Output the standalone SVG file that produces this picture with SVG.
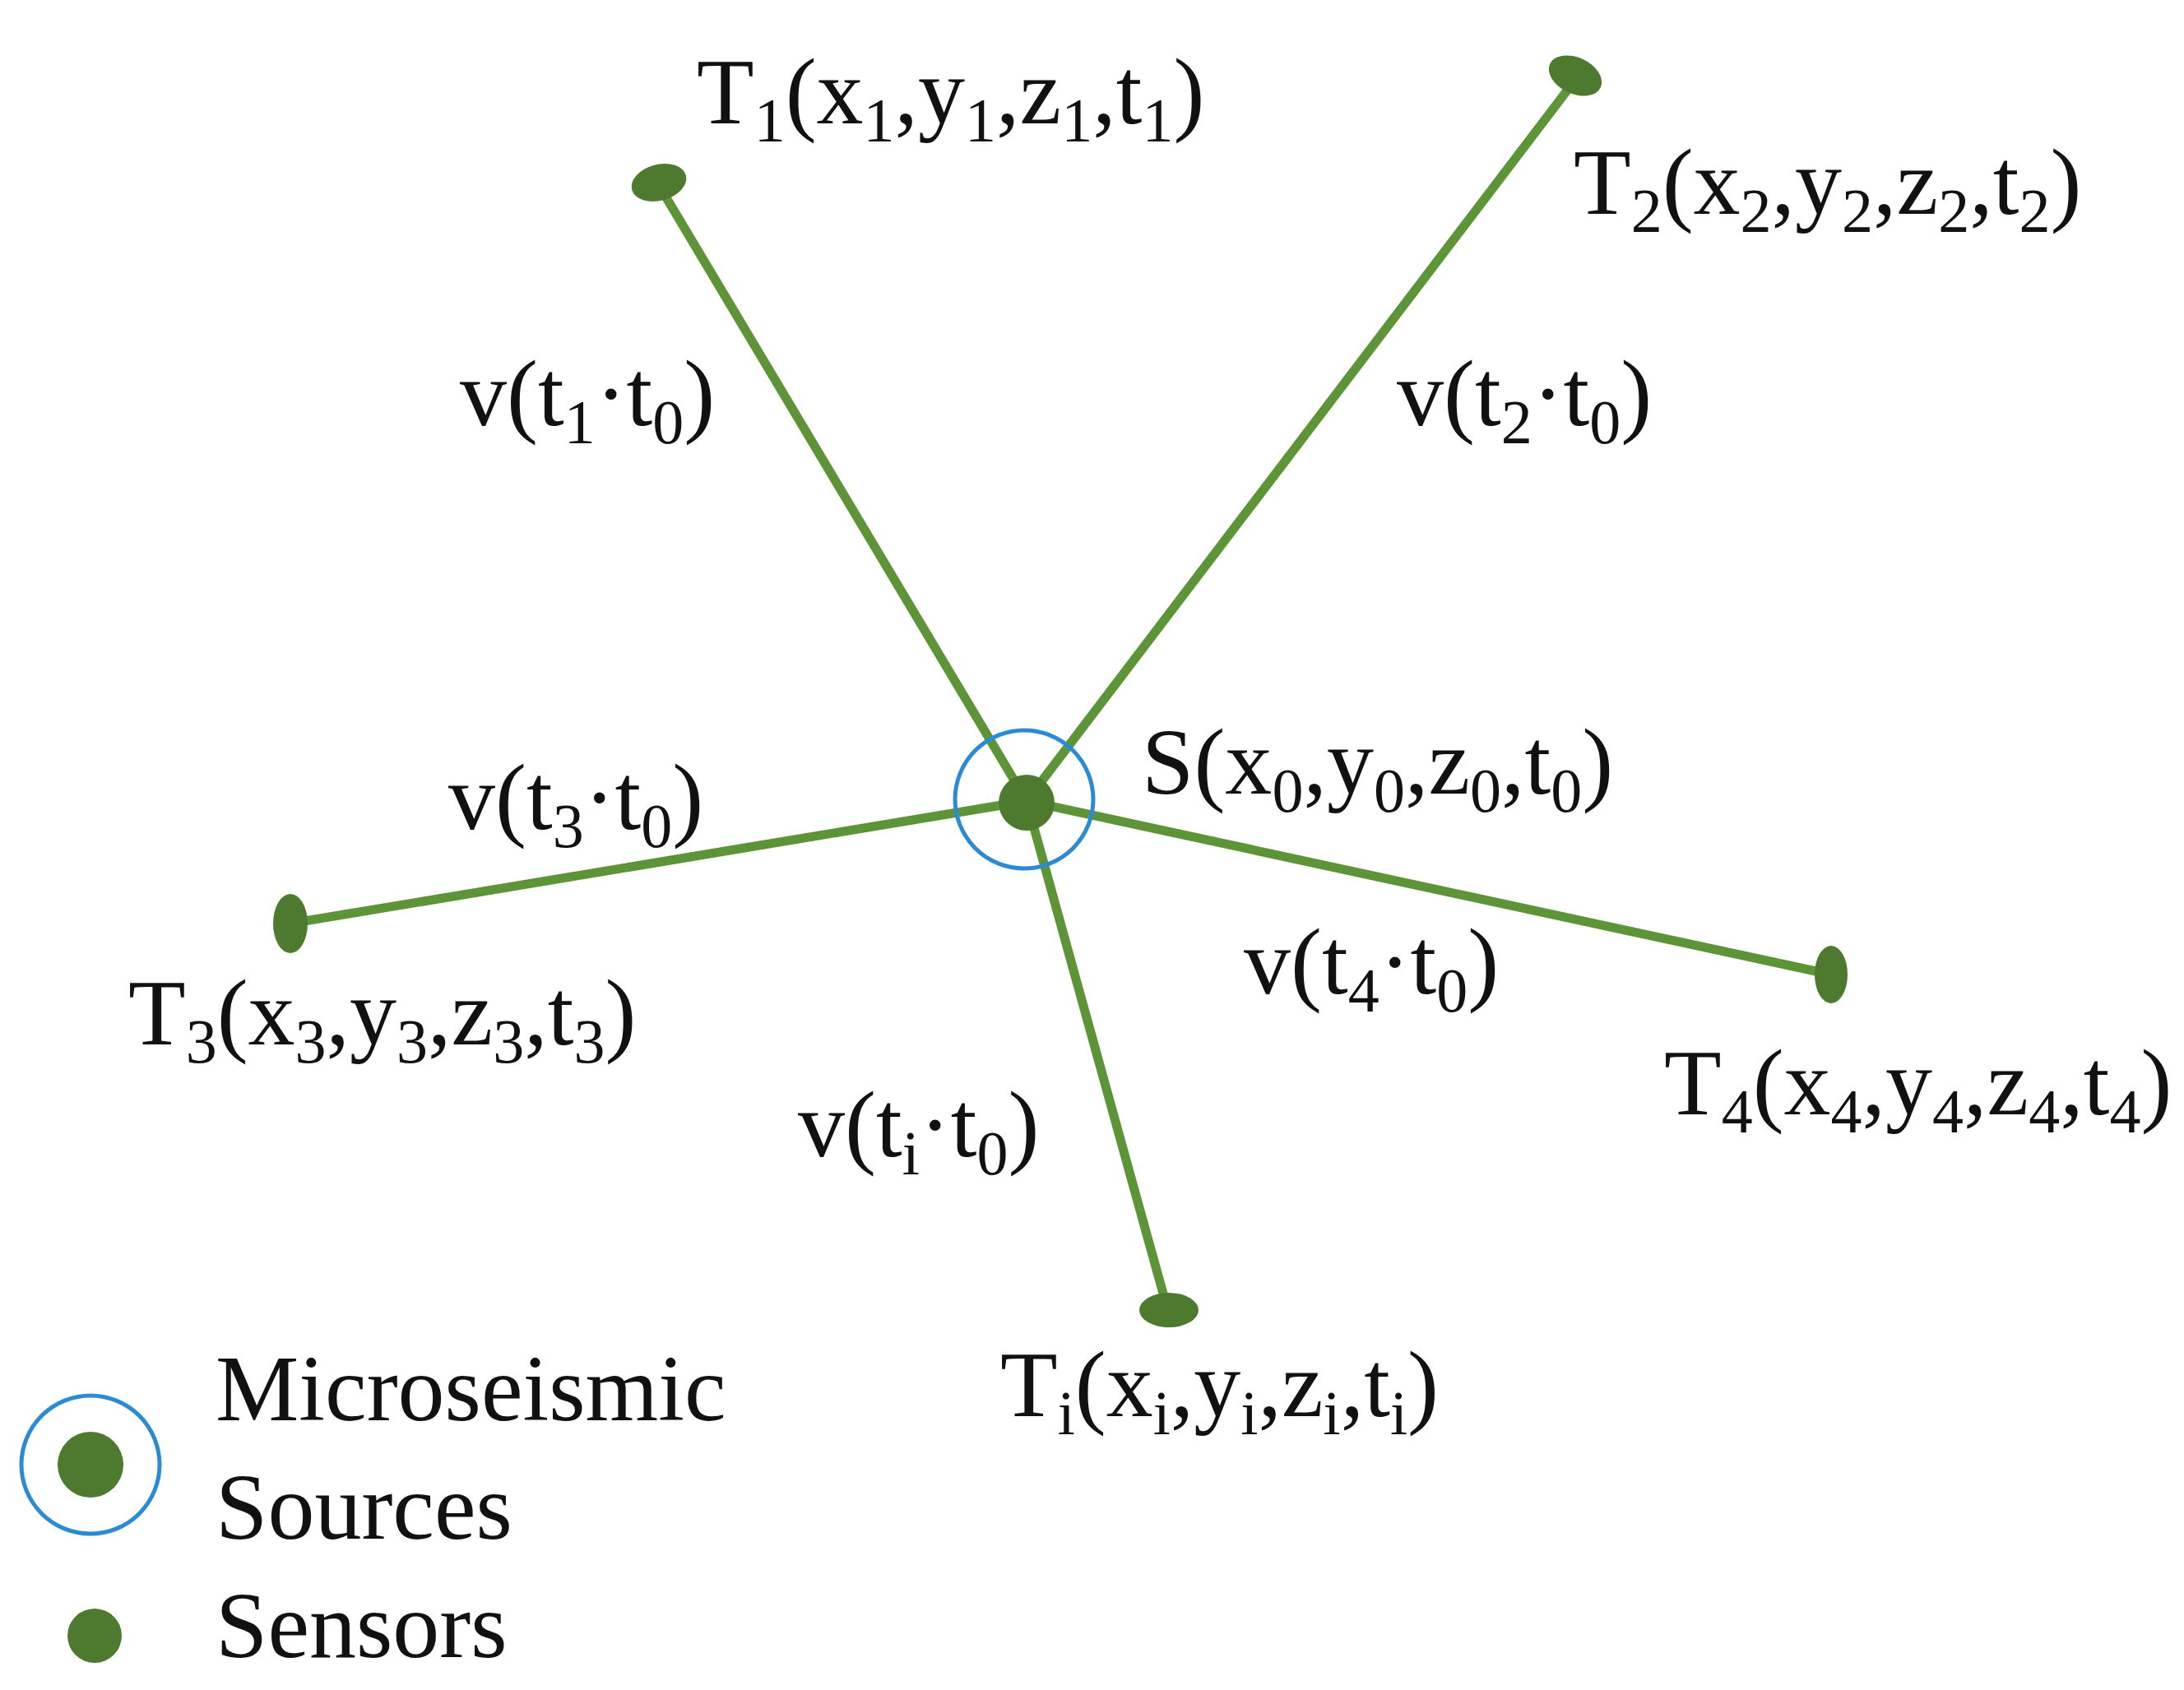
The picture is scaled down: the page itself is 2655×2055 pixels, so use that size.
<svg xmlns="http://www.w3.org/2000/svg" width="2655" height="2055" viewBox="0 0 2655 2055">
<style>
text{font-family:"Liberation Serif",serif;font-size:114px;fill:#111}
.s{font-size:76px}
.ln{stroke:#5e9438;stroke-width:11;fill:none}
.dot{fill:#4d7a2e}
.ring{fill:none;stroke:#2a8ad4;stroke-width:5}
</style>
<rect width="2655" height="2055" fill="#fff"/>
<g id="connectors">
<line class="ln" x1="1248" y1="974" x2="799" y2="222"/>
<line class="ln" x1="1248" y1="974" x2="1918" y2="93"/>
<line class="ln" x1="1248" y1="974" x2="352" y2="1123"/>
<line class="ln" x1="1248" y1="974" x2="2226" y2="1185"/>
<line class="ln" x1="1248" y1="974" x2="1419" y2="1591"/>
</g>
<g id="S"><circle class="ring" cx="1245" cy="972" r="84"/><circle class="dot" cx="1248" cy="976" r="34"/>
<text x="1388" y="965">S(x<tspan class="s" dy="22">0</tspan><tspan dy="-22">,y</tspan><tspan class="s" dy="22">0</tspan><tspan dy="-22">,z</tspan><tspan class="s" dy="22">0</tspan><tspan dy="-22">,t</tspan><tspan class="s" dy="22">0</tspan><tspan dy="-22">)</tspan></text></g>
<g id="T1"><ellipse class="dot" cx="801" cy="222" rx="34" ry="22" transform="rotate(-15 801 222)"/>
<text x="847" y="150">T<tspan class="s" dy="22">1</tspan><tspan dy="-22">(x</tspan><tspan class="s" dy="22">1</tspan><tspan dy="-22">,y</tspan><tspan class="s" dy="22">1</tspan><tspan dy="-22">,z</tspan><tspan class="s" dy="22">1</tspan><tspan dy="-22">,t</tspan><tspan class="s" dy="22">1</tspan><tspan dy="-22">)</tspan></text></g>
<g id="T2"><ellipse class="dot" cx="1915" cy="92" rx="34" ry="22" transform="rotate(25 1915 92)"/>
<text x="1913" y="260">T<tspan class="s" dy="22">2</tspan><tspan dy="-22">(x</tspan><tspan class="s" dy="22">2</tspan><tspan dy="-22">,y</tspan><tspan class="s" dy="22">2</tspan><tspan dy="-22">,z</tspan><tspan class="s" dy="22">2</tspan><tspan dy="-22">,t</tspan><tspan class="s" dy="22">2</tspan><tspan dy="-22">)</tspan></text></g>
<g id="T3"><ellipse class="dot" cx="353" cy="1123" rx="21" ry="36"/>
<text x="156" y="1270">T<tspan class="s" dy="22">3</tspan><tspan dy="-22">(x</tspan><tspan class="s" dy="22">3</tspan><tspan dy="-22">,y</tspan><tspan class="s" dy="22">3</tspan><tspan dy="-22">,z</tspan><tspan class="s" dy="22">3</tspan><tspan dy="-22">,t</tspan><tspan class="s" dy="22">3</tspan><tspan dy="-22">)</tspan></text></g>
<g id="T4"><ellipse class="dot" cx="2226" cy="1185" rx="20" ry="35"/>
<text x="2023" y="1355">T<tspan class="s" dy="22">4</tspan><tspan dy="-22">(x</tspan><tspan class="s" dy="22">4</tspan><tspan dy="-22">,y</tspan><tspan class="s" dy="22">4</tspan><tspan dy="-22">,z</tspan><tspan class="s" dy="22">4</tspan><tspan dy="-22">,t</tspan><tspan class="s" dy="22">4</tspan><tspan dy="-22">)</tspan></text></g>
<g id="Ti"><ellipse class="dot" cx="1421" cy="1593" rx="36" ry="21"/>
<text x="1216" y="1722">T<tspan class="s" dy="22">i</tspan><tspan dy="-22">(x</tspan><tspan class="s" dy="22">i</tspan><tspan dy="-22">,y</tspan><tspan class="s" dy="22">i</tspan><tspan dy="-22">,z</tspan><tspan class="s" dy="22">i</tspan><tspan dy="-22">,t</tspan><tspan class="s" dy="22">i</tspan><tspan dy="-22">)</tspan></text></g>
<g id="labels">
<text x="559" y="517">v(t<tspan class="s" dy="22">1</tspan><tspan dy="-22">·t</tspan><tspan class="s" dy="22">0</tspan><tspan dy="-22">)</tspan></text>
<text x="1698" y="517">v(t<tspan class="s" dy="22">2</tspan><tspan dy="-22">·t</tspan><tspan class="s" dy="22">0</tspan><tspan dy="-22">)</tspan></text>
<text x="545" y="1008">v(t<tspan class="s" dy="22">3</tspan><tspan dy="-22">·t</tspan><tspan class="s" dy="22">0</tspan><tspan dy="-22">)</tspan></text>
<text x="1512" y="1208">v(t<tspan class="s" dy="22">4</tspan><tspan dy="-22">·t</tspan><tspan class="s" dy="22">0</tspan><tspan dy="-22">)</tspan></text>
<text x="970" y="1406">v(t<tspan class="s" dy="22">i</tspan><tspan dy="-22">·t</tspan><tspan class="s" dy="22">0</tspan><tspan dy="-22">)</tspan></text>
</g>
<g id="legend">
<circle class="ring" cx="110" cy="1781" r="84"/><circle class="dot" cx="110" cy="1781" r="40"/>
<text x="262" y="1727">Microseismic</text>
<text x="262" y="1871">Sources</text>
<circle class="dot" cx="115" cy="1989" r="33"/>
<text x="262" y="2015">Sensors</text>
</g>
</svg>
